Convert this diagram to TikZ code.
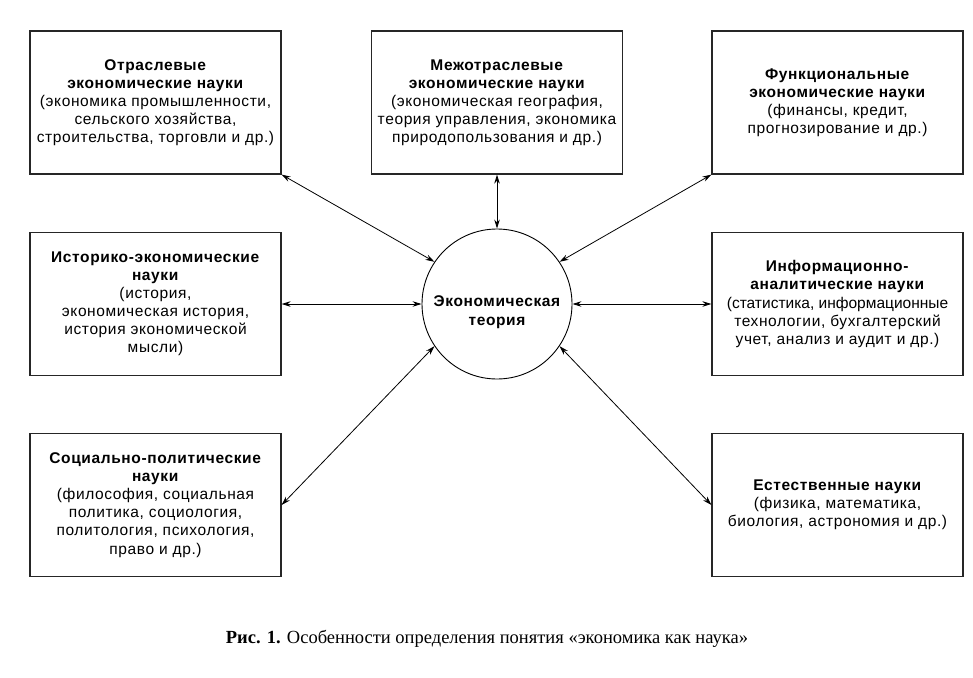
\documentclass[tikz,border=0pt]{standalone}
\usepackage{fontspec}
\setmainfont[LetterSpace=4]{Liberation Sans}
\newfontfamily\tightfont{Liberation Sans}
\newfontfamily\capfont{Liberation Serif}
\usetikzlibrary{arrows.meta}
\tikzset{
  sci/.style={draw=black!85, line width=1.2pt, minimum width=251pt, minimum height=143pt,
    align=center, inner sep=2pt, font=\fontsize{15.5}{18.1}\selectfont},
  core/.style={draw=black, line width=0.9pt, circle, minimum size=150pt, inner sep=0pt},
  coretext/.style={align=center, font=\fontsize{15.5}{18.5}\selectfont\bfseries},
  link/.style={line width=0.8pt, {Stealth[length=9pt,width=5.5pt]}-{Stealth[length=9pt,width=5.5pt]}},
  figcaption/.style={font=\fontsize{18.5}{21}\selectfont\capfont}
}
\begin{document}
\begin{tikzpicture}[x=1pt,y=-1pt]
\useasboundingbox (0,0) rectangle (973,677);
\node[sci] (tl) at (155.5,102.5) {\textbf{Отраслевые}\\\textbf{экономические науки}\\(экономика промышленности,\\сельского хозяйства,\\строительства, торговли и др.)};
\node[sci] (tm) at (497,102.5) {\textbf{Межотраслевые}\\\textbf{экономические науки}\\(экономическая география,\\теория управления, экономика\\природопользования и др.)};
\node[sci] (tr) at (837.5,102.5) {\textbf{Функциональные}\\\textbf{экономические науки}\\(финансы, кредит,\\прогнозирование и др.)};
\node[sci] (ml) at (155.5,304) {\textbf{Историко-экономические}\\\textbf{науки}\\(история,\\экономическая история,\\история экономической\\мысли)};
\node[sci] (mr) at (837.5,304) {\textbf{Информационно-}\\\textbf{аналитические науки}\\{\tightfont (статистика, информационные}\\технологии, бухгалтерский\\учет, анализ и аудит и др.)};
\node[sci] (bl) at (155.5,505) {\textbf{Социально-политические}\\\textbf{науки}\\(философия, социальная\\политика, социология,\\политология, психология,\\право и др.)};
\node[sci] (br) at (837.5,505) {\textbf{Естественные науки}\\(физика, математика,\\биология, астрономия и др.)};
\node[core] (c) at (497,304) {};
\node[coretext] (ct) at (497,312) {Экономическая\\теория};
\draw[link] (tl.south east) -- (c.146);
\draw[link] (tm.south) -- (c.north);
\draw[link] (tr.south west) -- (c.34);
\draw[link] (ml.east) -- (c.west);
\draw[link] (mr.west) -- (c.east);
\draw[link] (bl.east) -- (c.214);
\draw[link] (br.west) -- (c.-34);
\node[figcaption] (caption) at (487,639) {\textbf{Рис. 1.} Особенности определения понятия «экономика как наука»};
\end{tikzpicture}
\end{document}
